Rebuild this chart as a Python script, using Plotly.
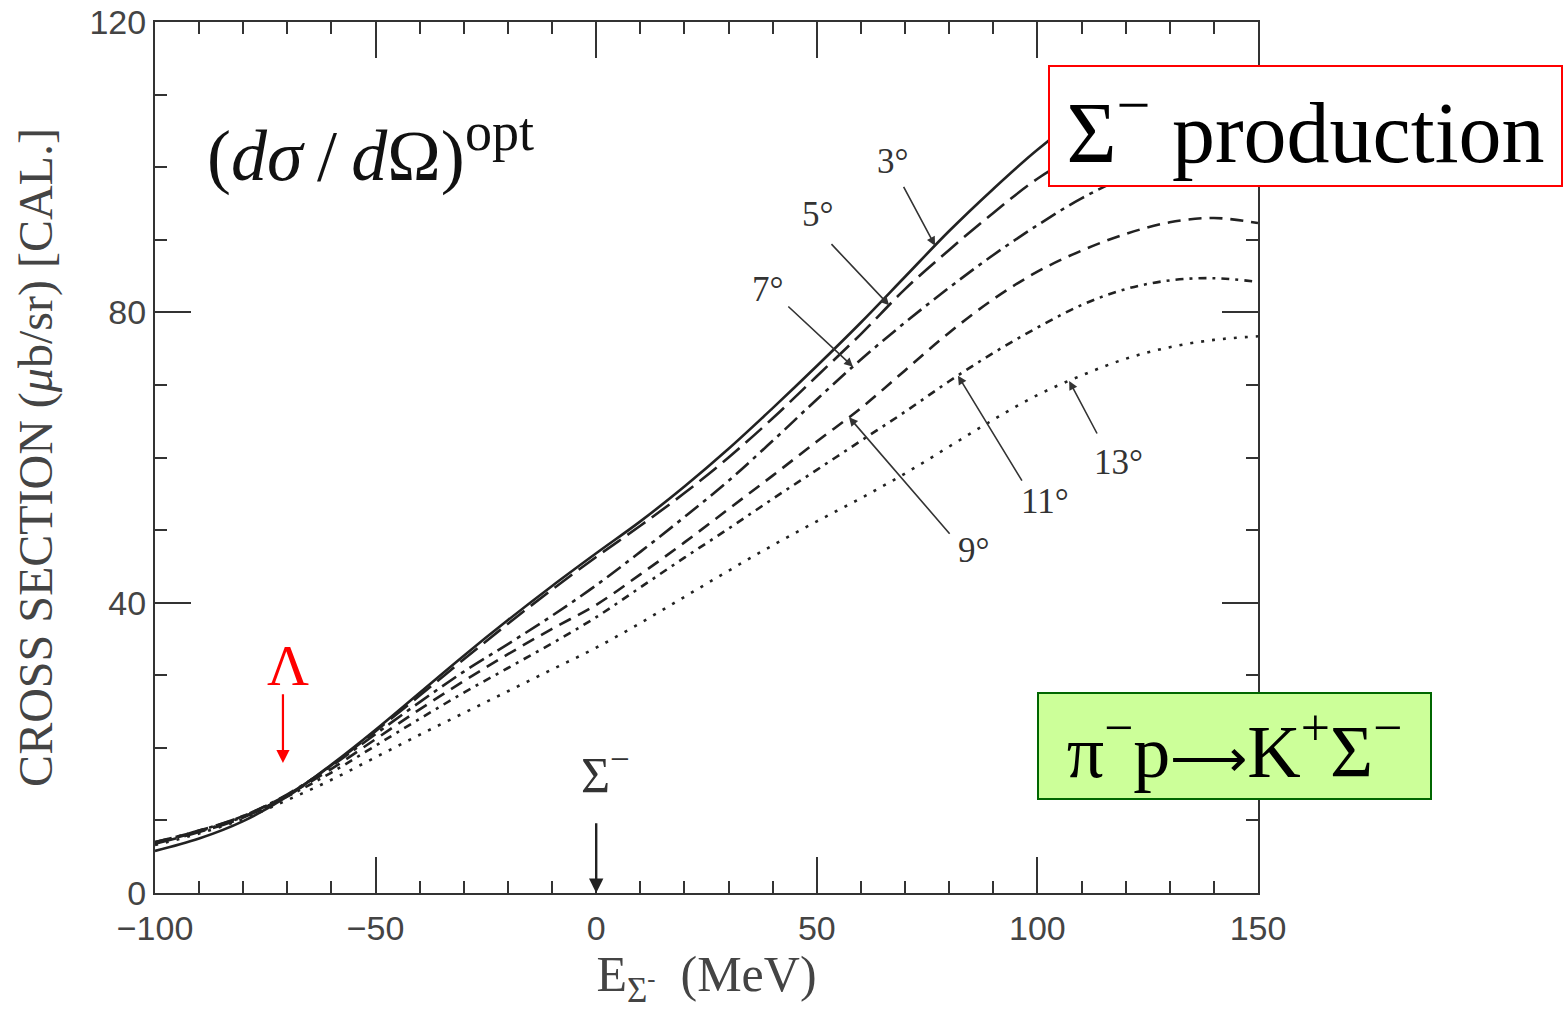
import numpy as np
import plotly.graph_objects as go

# ---------------- data ----------------
energy = [-100, -90, -80, -70, -60, -50, -40, -30, -20, -10, 0, 10, 20, 30, 40,
          50, 60, 70, 80, 90, 100, 110, 120, 130, 140, 150]
sig_3 = [5.8, 7.5, 9.9, 13.3, 17.7, 22.5, 27.6, 32.7, 37.6, 42.3, 46.8, 51.2, 56.0, 61.2, 66.8,
         72.6, 78.6, 84.9, 91.2, 97.0, 102.4, 107.0, 110.5, 112.5, 113.0, 112.5]
sig_5 = [6.8, 8.4, 10.4, 13.5, 17.6, 22.3, 27.2, 32.2, 37.1, 41.8, 46.3, 50.6, 55.1, 60.0, 65.4,
         71.2, 77.0, 83.2, 88.6, 93.7, 98.4, 102.0, 105.0, 107.0, 108.0, 108.0]
sig_7 = [7.0, 8.6, 10.6, 13.6, 17.5, 21.9, 26.3, 30.5, 34.3, 38.2, 42.4, 47.0, 51.8, 56.8, 62.3,
         68.0, 73.5, 78.6, 83.4, 87.9, 92.0, 95.7, 98.6, 100.6, 101.6, 101.5]
sig_9 = [7.0, 8.6, 10.6, 13.5, 17.1, 21.2, 25.3, 29.2, 32.9, 36.4, 39.7, 43.9, 48.3, 52.9, 57.5,
         62.2, 66.8, 72.0, 77.2, 81.8, 85.6, 88.5, 90.8, 92.4, 93.0, 92.3]
sig_11 = [6.9, 8.5, 10.5, 13.3, 16.6, 20.3, 24.0, 27.6, 31.0, 34.4, 38.0, 42.1, 46.2, 50.2, 54.3,
          58.3, 62.3, 66.3, 70.5, 74.4, 77.9, 81.0, 83.2, 84.4, 84.7, 84.2]
sig_13 = [6.6, 8.2, 10.2, 12.8, 15.6, 18.7, 21.8, 24.8, 27.8, 30.8, 33.8, 37.2, 40.8, 44.4, 47.9,
          51.2, 54.4, 57.8, 61.5, 65.2, 68.6, 71.3, 73.6, 75.2, 76.2, 76.7]

angle_labels = ["3°", "5°", "7°", "9°", "11°", "13°"]
series = [sig_3, sig_5, sig_7, sig_9, sig_11, sig_13]
dashes = ["solid", "22px,8px", "17px,6px,4px,6px", "13px,8px", "8px,6px,3px,6px", "3px,8px"]

# arrow annotations: (tip energy on curve, tail E, tail sigma, label E, label sigma)
arrow_tip_E = [76.8, 66.4, 58.2, 57.3, 82.0, 107.2]
arrow_tail_E = [69.5, 53.0, 43.2, 80.4, 96.7, 113.7]
arrow_tail_S = [97.5, 89.6, 81.0, 49.3, 56.6, 63.1]
label_E = [67.3, 50.3, 38.9, 85.6, 101.7, 118.3]
label_S = [100.8, 93.5, 83.2, 47.2, 54.0, 59.3]

x_ticks = [-100, -50, 0, 50, 100, 150]
y_ticks = [0, 40, 80, 120]

fig = go.Figure()
for lab, s, d in zip(angle_labels, series, dashes):
    fig.add_trace(go.Scatter(x=energy, y=s, mode="lines", name=lab,
                             line=dict(color="#222222", width=2.6, dash=d,
                                       shape="spline", smoothing=1.0),
                             showlegend=False, hoverinfo="skip"))

ann = []
for i, lab in enumerate(angle_labels):
    tipy = float(np.interp(arrow_tip_E[i], energy, series[i]))
    ann.append(dict(x=arrow_tip_E[i], y=tipy, ax=arrow_tail_E[i], ay=arrow_tail_S[i],
                    xref="x", yref="y", axref="x", ayref="y", text="",
                    showarrow=True, arrowhead=2, arrowsize=1.1, arrowwidth=1.6,
                    arrowcolor="#333333", standoff=0, startstandoff=0))
    ann.append(dict(x=label_E[i], y=label_S[i], xref="x", yref="y", text=lab,
                    showarrow=False, font=dict(family="Liberation Serif", size=35, color="#333333")))

# Sigma- arrow at 0
ann.append(dict(x=0, y=0, ax=0, ay=9.8, xref="x", yref="y", axref="x", ayref="y", text="",
                showarrow=True, arrowhead=2, arrowsize=1.2, arrowwidth=2.4, arrowcolor="#222222",
                standoff=0, startstandoff=0))
ann.append(dict(x=2.0, y=16.8, xref="x", yref="y", text="Σ<sup>−</sup>", showarrow=False,
                font=dict(family="Liberation Serif", size=50, color="#333333")))
# Lambda arrow
ann.append(dict(x=-71, y=17.9, ax=-71, ay=27.6, xref="x", yref="y", axref="x", ayref="y", text="",
                showarrow=True, arrowhead=2, arrowsize=1.2, arrowwidth=2.2, arrowcolor="#ff0000",
                standoff=0, startstandoff=0))
ann.append(dict(x=-69.8, y=31.3, xref="x", yref="y", text="Λ", showarrow=False,
                font=dict(family="Liberation Serif", size=58, color="#ff0000")))

# (dσ/dΩ)^opt
ann.append(dict(x=0.045, y=0.846, xref="paper", yref="paper", xanchor="left", yanchor="middle",
                text="(<i>dσ</i>\u2009/\u2009<i>d</i>Ω)", showarrow=False,
                font=dict(family="Liberation Serif", size=72, color="#111111")))
ann.append(dict(x=0.279, y=0.874, xref="paper", yref="paper", xanchor="left", yanchor="middle",
                text="opt", showarrow=False,
                font=dict(family="Liberation Serif", size=54, color="#111111")))

# red box
ann.append(dict(x=1.0430, y=0.8806, xref="paper", yref="paper", xanchor="center", yanchor="middle",
                text="Σ<sup>−</sup> production", showarrow=False, width=511, height=118,
                bgcolor="white", bordercolor="#ff0000", borderwidth=2, borderpad=0,
                font=dict(family="Liberation Serif", size=86, color="black")))
# green box
ann.append(dict(x=0.9787, y=0.1688, xref="paper", yref="paper", xanchor="center", yanchor="middle",
                text="π<sup>−</sup>p<span style=\"font-size:54px\">⟶</span>K<sup>+</sup>Σ<sup>−</sup>",
                showarrow=False, width=391, height=104,
                bgcolor="#ccff99", bordercolor="#006600", borderwidth=2, borderpad=0,
                font=dict(family="Liberation Serif", size=74, color="black")))

axis_common = dict(showline=True, linecolor="#333333", linewidth=2, mirror="ticks",
                   ticks="inside", ticklen=36, tickwidth=1.6, tickcolor="#333333",
                   showgrid=False, zeroline=False, automargin=False,
                   tickfont=dict(family="Liberation Sans", size=34, color="#444444"))

fig.update_layout(
    width=1565, height=1010,
    margin=dict(l=155, r=307, t=22, b=117),
    paper_bgcolor="white", plot_bgcolor="white",
    annotations=ann,
    xaxis=dict(range=[-100, 150], tickvals=x_ticks, **axis_common, ticklabelstandoff=4,
               minor=dict(dtick=10, tick0=0, ticklen=12, tickwidth=1.6, tickcolor="#333333", ticks="inside"),
               title=dict(text="E<sub>Σ<sup>-</sup></sub>  (MeV)", standoff=34,
                          font=dict(family="Liberation Serif", size=50, color="#444444"))),
    yaxis=dict(range=[0, 120], tickvals=y_ticks, **axis_common,
               minor=dict(dtick=10, tick0=0, ticklen=12, tickwidth=1.6, tickcolor="#333333", ticks="inside"),
               title=dict(text="CROSS SECTION (<i>μ</i>b/sr) [CAL.]", standoff=22,
                          font=dict(family="Liberation Serif", size=48, color="#444444"))),
)

fig.write_html("out.html")
